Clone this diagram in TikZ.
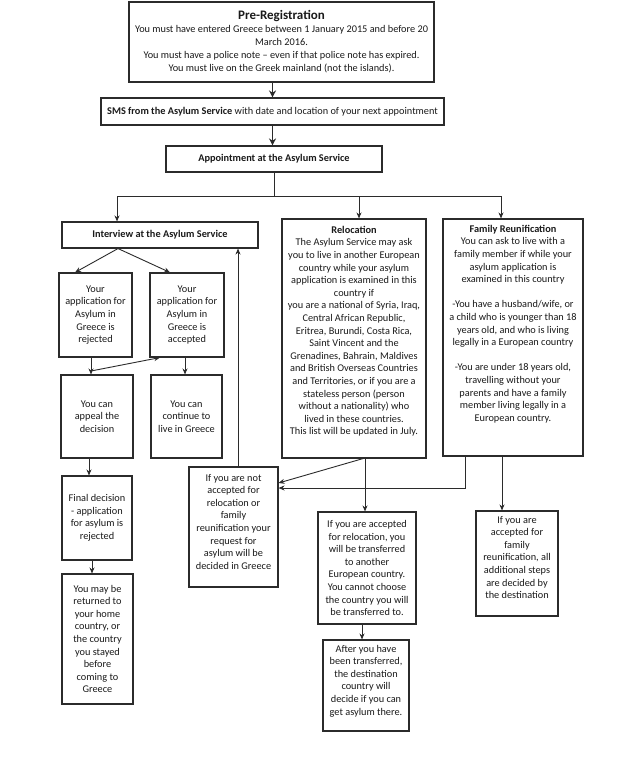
\documentclass[tikz,border=0pt]{standalone}
\usepackage{fontspec}
\setmainfont{Carlito}
\usetikzlibrary{arrows.meta}
\definecolor{ln}{HTML}{2B2B2B}
\definecolor{tx}{HTML}{1A1A1A}
\newcommand{\cbox}[2]{\parbox{#1pt}{\centering\fontsize{10.3}{12.6}\selectfont #2}}
\newcommand{\tbox}[4]{\parbox[c][#2pt][t]{#1pt}{\vspace*{#3pt}\centering\fontsize{10.3}{12.6}\selectfont #4}}
\tikzset{
  box/.style={draw=ln, line width=1.1pt, inner sep=0pt, text=tx},
  arr/.style={draw=ln, line width=0.9pt, -{Stealth[length=6pt,width=5pt]}},
  bigarr/.style={draw=ln, line width=1.6pt, -{Stealth[length=7pt,width=7pt]}},
  conn/.style={draw=ln, line width=0.9pt}
}
\begin{document}
\begin{tikzpicture}[x=1pt,y=-1pt]
\useasboundingbox[fill=white] (0,0) rectangle (641,757);
% boxes
\node[box, line width=1.6pt, minimum width=305pt, minimum height=80pt] (prereg) at (281.5,42)
  {\parbox{305pt}{\centering\fontsize{10.3}{13}\selectfont {\fontsize{13}{15}\selectfont\bfseries Pre-Registration}\\
  You must have entered Greece between 1 January 2015 and before 20\\
  March 2016.\\
  You must have a police note -- even if that police note has expired.\\
  You must live on the Greek mainland (not the islands).}};
\node[box, minimum width=343pt, minimum height=27pt] (sms) at (272.5,111.5)
  {\cbox{343}{\textbf{SMS from the Asylum Service} with date and location of your next appointment}};
\node[box, minimum width=216pt, minimum height=26pt] (appt) at (274,159)
  {\cbox{216}{\textbf{Appointment at the Asylum Service}}};
\node[box, minimum width=196pt, minimum height=26pt] (interview) at (160,235)
  {\cbox{196}{\textbf{Interview at the Asylum Service}}};
\node[box, minimum width=73pt, minimum height=84pt] (rej) at (95.5,315)
  {\cbox{73}{Your\\application for\\Asylum in\\Greece is\\rejected}};
\node[box, minimum width=74pt, minimum height=84pt] (acc) at (187,315)
  {\cbox{74}{Your\\application for\\Asylum in\\Greece is\\accepted}};
\node[box, minimum width=72pt, minimum height=83pt] (appeal) at (97,416.5)
  {\cbox{72}{You can\\appeal the\\decision}};
\node[box, minimum width=71pt, minimum height=83pt] (cont) at (186.5,416.5)
  {\cbox{71}{You can\\continue to\\live in Greece}};
\node[box, minimum width=70pt, minimum height=84pt] (final) at (97,518)
  {\cbox{70}{Final decision\\- application\\for asylum is\\rejected}};
\node[box, minimum width=71pt, minimum height=130pt] (returned) at (97.5,639)
  {\cbox{71}{You may be\\returned to\\your home\\country, or\\the country\\you stayed\\before\\coming to\\Greece}};
\node[box] (notacc) at (233.5,527)
  {\tbox{89}{120}{7}{If you are not\\accepted for\\relocation or\\family\\reunification your\\request for\\asylum will be\\decided in Greece}};
\node[box] (reloc) at (354,338.5)
  {\tbox{144}{239}{7}{\textbf{Relocation}\\The Asylum Service may ask\\you to live in another European\\country while your asylum\\application is examined in this\\country if\\you are a national of Syria, Iraq,\\Central African Republic,\\Eritrea, Burundi, Costa Rica,\\Saint Vincent and the\\Grenadines, Bahrain, Maldives\\and British Overseas Countries\\and Territories, or if you are a\\stateless person (person\\without a nationality) who\\lived in these countries.\\This list will be updated in July.}};
\node[box] (family) at (513,337.5)
  {\tbox{140}{237}{6}{\textbf{Family Reunification}\\You can ask to live with a\\family member if while your\\asylum application is\\examined in this country\\[12.6pt]-You have a husband/wife, or\\a child who is younger than 18\\years old, and who is living\\legally in a European country\\[12.6pt]-You are under 18 years old,\\travelling without your\\parents and have a family\\member living legally in a\\European country.}};
\node[box, minimum width=98pt, minimum height=112pt] (accreloc) at (367,568)
  {\cbox{98}{If you are accepted\\for relocation, you\\will be transferred\\to another\\European country.\\You cannot choose\\the country you will\\be transferred to.}};
\node[box] (after) at (366,685.5)
  {\tbox{86}{91}{5}{After you have\\been transferred,\\the destination\\country will\\decide if you can\\get asylum there.}};
\node[box] (accfam) at (517,563.5)
  {\tbox{82}{105}{5}{If you are\\accepted for\\family\\reunification, all\\additional steps\\are decided by\\the destination}};
% connectors
\draw[bigarr] (sms.north |- prereg.south) -- (sms.north);
\draw[bigarr] (sms.south) -- (sms.south |- appt.north);
\coordinate (b1) at (117,196);
\coordinate (b2) at (359,196);
\coordinate (b3) at (501,196);
\draw[conn] (appt.south) -- (appt.south |- b1);
\draw[conn] (b1) -- (b3);
\draw[arr] (b1) -- (b1 |- interview.north);
\draw[arr] (b2) -- (b2 |- reloc.north);
\draw[arr] (b3) -- (b3 |- family.north);
\draw[arr] ([xshift=-42pt]interview.south) -- ([xshift=-20.5pt]rej.north);
\draw[arr] ([xshift=-42pt]interview.south) -- ([xshift=-17pt]acc.north);
\draw[arr] ([xshift=-4.5pt]rej.south) -- ([xshift=-4.5pt]rej.south |- appeal.north);
\coordinate (ap) at (91,371);
\draw[arr] (ap) -- ([xshift=-27pt]acc.south);
\draw[arr] ([xshift=-2pt]acc.south) -- ([xshift=-2pt]acc.south |- cont.north);
\draw[arr] ([xshift=-8pt]appeal.south) -- ([xshift=-8pt]appeal.south |- final.north);
\draw[arr] ([xshift=-5pt]final.south) -- ([xshift=-5pt]final.south |- returned.north);
\draw[arr] ([xshift=4.5pt]notacc.north) -- ([xshift=4.5pt]notacc.north |- interview.south);
\coordinate (rb) at (365,458);
\draw[arr] (rb) -- (notacc.east |- 0,483);
\draw[arr] (rb) -- (rb |- accreloc.north);
\coordinate (fb) at (465,456);
\draw[arr] (fb) -- (465,488) -- (notacc.east |- 0,488);
\draw[arr] ([xshift=-11pt]family.south) -- ([xshift=-11pt]family.south |- accfam.north);
\draw[arr] ([xshift=-5pt]accreloc.south) -- ([xshift=-5pt]accreloc.south |- after.north);
\end{tikzpicture}
\end{document}
